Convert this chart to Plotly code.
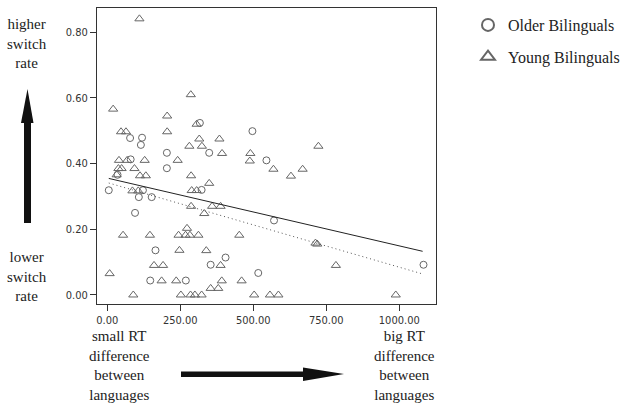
import plotly.graph_objects as go

# ---------------- data ----------------
older_x = [317, 497, 78, 119, 115, 204, 349, 80, 545, 204, 35, 5, 122, 323, 108, 152,
           95, 571, 165, 405, 354, 517, 147, 269, 1083]
older_y = [0.524, 0.499, 0.478, 0.479, 0.457, 0.433, 0.433, 0.413, 0.41, 0.386, 0.366,
           0.319, 0.319, 0.32, 0.298, 0.298, 0.25, 0.227, 0.136, 0.114, 0.092, 0.067,
           0.044, 0.044, 0.092]

young_x = [110, 286, 20, 205, 306, 47, 64, 205, 315, 384, 281, 324, 723, 393, 490,
           40, 68, 128, 241, 488, 38, 49, 93, 569, 669, 32, 112, 132, 287, 629,
           349, 86, 106, 289, 306, 287, 359, 388, 332, 273, 54, 146, 244, 268, 283,
           312, 452, 719, 713, 247, 339, 160, 191, 388, 783, 8, 186, 236, 392, 460,
           354, 380, 89, 252, 285, 300, 323, 503, 557, 586, 988]
young_y = [0.841, 0.61, 0.566, 0.545, 0.52, 0.497, 0.497, 0.497, 0.475, 0.475, 0.453,
           0.453, 0.453, 0.431, 0.431, 0.41, 0.41, 0.41, 0.41, 0.408, 0.385, 0.385,
           0.385, 0.383, 0.383, 0.366, 0.363, 0.363, 0.363, 0.362, 0.34, 0.317, 0.317,
           0.318, 0.318, 0.27, 0.27, 0.27, 0.248, 0.203, 0.182, 0.182, 0.182, 0.182,
           0.182, 0.182, 0.182, 0.155, 0.158, 0.136, 0.135, 0.09, 0.09, 0.09, 0.09,
           0.065, 0.043, 0.043, 0.043, 0.043, 0.02, 0.02, 0.0, 0.0, 0.0, 0.0, 0.0,
           0.0, 0.0, 0.0, 0.0]

fit_x = [5, 1080]
fit_solid_y = [0.355, 0.133]
fit_dotted_y = [0.341, 0.064]

x_ticks = [0, 250, 500, 750, 1000]
y_ticks = [0.0, 0.2, 0.4, 0.6, 0.8]

series_names = ["Older Bilinguals", "Young Bilinguals"]

# ---------------- figure ----------------
W, H = 632, 406
L, R, T, B = 97, 436, 8, 304


def px(x):
    return (x - L) / (R - L)


def py(y):
    return (B - y) / (B - T)


MARK = "#666666"
fig = go.Figure()
fig.add_trace(go.Scatter(
    x=older_x, y=older_y, mode="markers", name=series_names[0], legendgroup="a",
    marker=dict(symbol="circle-open", size=7, color=MARK, line=dict(width=1, color=MARK)),
))
fig.add_trace(go.Scatter(
    x=young_x, y=young_y, mode="markers", name=series_names[1], legendgroup="b",
    marker=dict(symbol="triangle-up-open", size=8, color=MARK, line=dict(width=1, color=MARK)),
))
fig.add_trace(go.Scatter(x=fit_x, y=fit_solid_y, mode="lines", showlegend=False,
                         line=dict(color="#222", width=1)))
fig.add_trace(go.Scatter(x=fit_x, y=fit_dotted_y, mode="lines", showlegend=False,
                         line=dict(color="#555", width=1, dash="1px,3px")))

tickfont = dict(family="Liberation Sans Narrow, DejaVu Sans Condensed, Liberation Sans",
                size=11, color="#333")
axis_common = dict(showline=True, mirror=True, linecolor="#333", linewidth=1,
                   showgrid=False, zeroline=False, ticks="outside", ticklen=6,
                   tickcolor="#333", tickfont=tickfont, tickformat=".2f")

fig.update_layout(
    width=W, height=H,
    margin=dict(l=L, r=W - R, t=T, b=H - B, autoexpand=False),
    paper_bgcolor="white", plot_bgcolor="white",
    xaxis=dict(range=[-35.3, 1125.8], tickvals=x_ticks, **axis_common),
    yaxis=dict(range=[-0.0275, 0.874], tickvals=y_ticks, **axis_common),
    legend=dict(x=px(468), y=py(8), xanchor="left", yanchor="top",
                font=dict(family="Liberation Serif", size=16, color="#222"),
                itemsizing="constant", traceorder="grouped", tracegroupgap=8,
                bgcolor="rgba(0,0,0,0)"),
)

serif = dict(family="Liberation Serif", size=15, color="#222")
blocks = [
    ("higher<br>switch<br>rate", 27, 43.5),
    ("lower<br>switch<br>rate", 27, 276.5),
    ("small RT<br>difference<br>between<br>languages", 119, 365),
    ("big RT<br>difference<br>between<br>languages", 404, 365),
]
for txt, x, y in blocks:
    fig.add_annotation(text=txt, x=px(x), y=py(y), xref="paper", yref="paper",
                       showarrow=False, xanchor="center", yanchor="middle",
                       align="center", font=serif)

ARROW = "#111"
# vertical arrow
fig.add_shape(type="rect", xref="paper", yref="paper",
              x0=px(24), x1=px(31), y0=py(223), y1=py(122),
              fillcolor=ARROW, line=dict(width=0))
fig.add_shape(type="path", xref="paper", yref="paper",
              path=f"M {px(21)} {py(123)} L {px(33.5)} {py(123)} L {px(27.5)} {py(89)} Z",
              fillcolor=ARROW, line=dict(width=0))
# horizontal arrow
fig.add_shape(type="rect", xref="paper", yref="paper",
              x0=px(181), x1=px(304), y0=py(377), y1=py(371.5),
              fillcolor=ARROW, line=dict(width=0))
fig.add_shape(type="path", xref="paper", yref="paper",
              path=f"M {px(303)} {py(367.5)} L {px(303)} {py(381)} L {px(344)} {py(374)} Z",
              fillcolor=ARROW, line=dict(width=0))

fig.write_html(
    "out.html",
    config={"displayModeBar": False},
    post_script="document.body.style.margin='0';document.body.style.overflow='hidden';",
)
